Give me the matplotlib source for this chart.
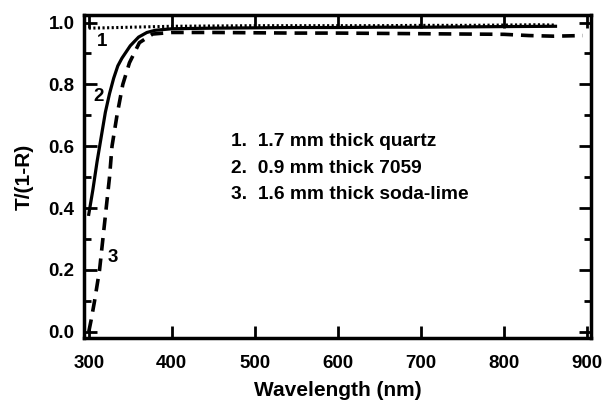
import matplotlib
matplotlib.use("Agg")
import matplotlib.pyplot as plt
from matplotlib.ticker import MultipleLocator, FormatStrFormatter

plt.rcParams['font.family'] = ['Liberation Sans', 'DejaVu Sans']
plt.rcParams['font.weight'] = 'bold'

# Series 1: 1.7 mm quartz (dotted)
wl_quartz = [300, 320, 350, 400, 450, 500, 550, 600, 650, 700, 750, 800, 840, 862]
t_quartz = [0.982, 0.983, 0.985, 0.988, 0.989, 0.990, 0.990, 0.990, 0.990, 0.991, 0.991, 0.992, 0.993, 0.992]

# Series 2: 0.9 mm 7059 (solid)
wl_7059 = [300, 305, 310, 315, 320, 325, 330, 335, 340, 345, 350, 360, 370, 380, 400, 450, 500,
           550, 600, 650, 700, 750, 800, 862]
t_7059 = [0.38, 0.46, 0.55, 0.63, 0.71, 0.77, 0.82, 0.86, 0.885, 0.905, 0.925, 0.953, 0.968, 0.975,
          0.980, 0.982, 0.983, 0.984, 0.984, 0.985, 0.985, 0.986, 0.987, 0.988]

# Series 3: 1.6 mm soda-lime (dashed)
wl_soda = [300, 303, 307, 310, 313, 317, 321, 325, 328, 334, 341, 349, 361, 377, 400, 450, 500,
           550, 600, 650, 700, 750, 800, 830, 860, 895]
t_soda = [0.0, 0.04, 0.10, 0.15, 0.20, 0.30, 0.40, 0.50, 0.60, 0.70, 0.80, 0.87, 0.935, 0.963,
          0.968, 0.968, 0.967, 0.966, 0.966, 0.965, 0.964, 0.963, 0.962, 0.958, 0.956, 0.958]

legend_lines = ["1.  1.7 mm thick quartz", "2.  0.9 mm thick 7059", "3.  1.6 mm thick soda-lime"]

fig = plt.figure(figsize=(6.07, 4.01), dpi=100)
ax = fig.add_axes([0.138, 0.157, 0.836, 0.806])

ax.plot(wl_quartz, t_quartz, color='black', lw=2.2, linestyle=(0, (0.7, 0.8)))
ax.plot(wl_7059, t_7059, color='black', lw=2.3, linestyle='-')
ax.plot(wl_soda, t_soda, color='black', lw=2.6, linestyle=(0, (3.5, 2.2)))

ax.set_xlim(294, 905)
ax.set_ylim(-0.02, 1.025)
ax.xaxis.set_major_locator(MultipleLocator(100))
ax.yaxis.set_major_locator(MultipleLocator(0.2))
ax.yaxis.set_minor_locator(MultipleLocator(0.1))
ax.yaxis.set_major_formatter(FormatStrFormatter('%.1f'))

for s in ax.spines.values():
    s.set_linewidth(2.5)

ax.tick_params(axis='both', which='major', direction='in', length=9, width=2,
               labelsize=13.5, top=True, right=True)
ax.tick_params(axis='x', which='major', pad=12)
ax.tick_params(axis='y', which='major', pad=6.5)
ax.tick_params(axis='y', which='minor', direction='in', length=5, width=2, right=True)

ax.set_xlabel("Wavelength (nm)", fontsize=15, fontweight='bold', labelpad=7)
ax.set_ylabel("T/(1-R)", fontsize=15, fontweight='bold', labelpad=11)

ax.text(316, 0.94, "1", fontsize=13.5, fontweight='bold', ha='center', va='center')
ax.text(312, 0.76, "2", fontsize=13.5, fontweight='bold', ha='center', va='center')
ax.text(329, 0.24, "3", fontsize=13.5, fontweight='bold', ha='center', va='center')

for i, line in enumerate(legend_lines):
    ax.text(471, 0.614 - i * 0.085, line, fontsize=13.75, fontweight='bold', ha='left', va='center')

fig.savefig("out.png", dpi=100)
